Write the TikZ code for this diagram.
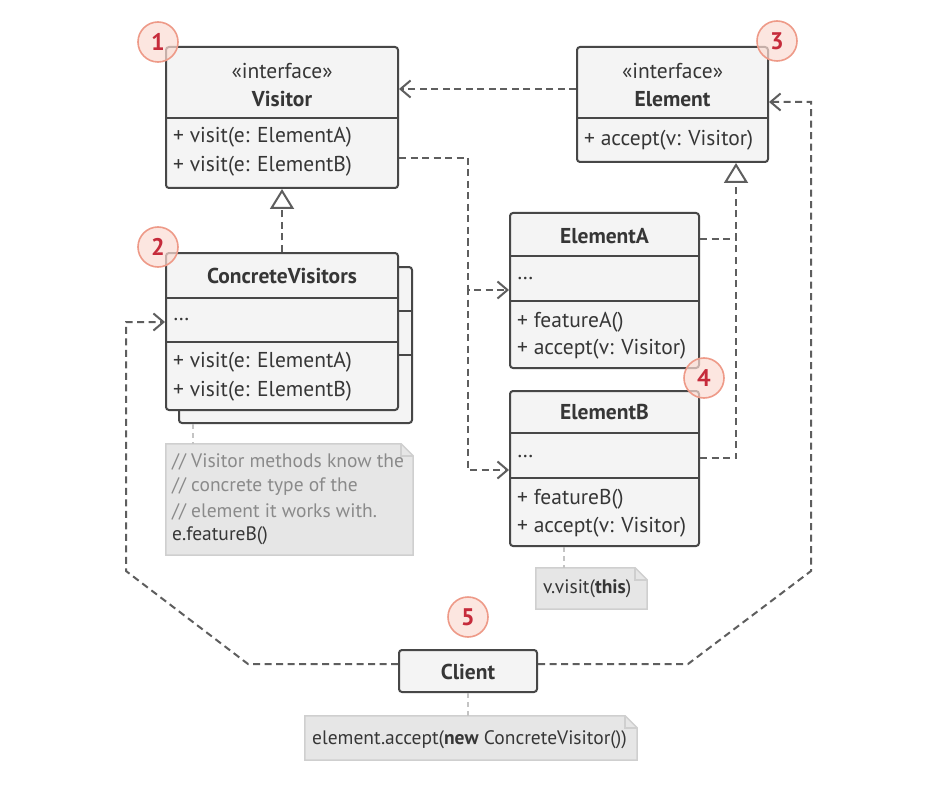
\documentclass[tikz,border=0pt]{standalone}
\usepackage{fontspec}
\setmainfont{PT Sans}
\usetikzlibrary{arrows.meta,calc}
\definecolor{ink}{HTML}{474747}
\definecolor{txtc}{HTML}{363636}
\definecolor{dep}{HTML}{5E5E5E}
\definecolor{boxfill}{HTML}{F4F4F4}
\definecolor{notefill}{HTML}{E6E6E6}
\definecolor{noteline}{HTML}{CFCFCF}
\definecolor{noteconn}{HTML}{C4C4C4}
\definecolor{commenttext}{HTML}{8A8A8A}
\definecolor{badgeline}{HTML}{EE9A88}
\definecolor{badgefill}{HTML}{FCDCD3}
\definecolor{badgetext}{HTML}{C62B3B}
\tikzset{
  umlbox/.style={draw=ink, line width=2pt, fill=boxfill, rounded corners=3pt, inner sep=0pt},
  divider/.style={draw=ink, line width=2pt},
  mtxt/.style={anchor=west, inner sep=0pt, text=txtc, font=\fontsize{21.5}{24}\selectfont},
  ctxt/.style={anchor=center, inner sep=0pt, text=txtc, font=\fontsize{21.5}{24}\selectfont},
  btxt/.style={anchor=center, inner sep=0pt, text=txtc, font=\fontsize{21.5}{24}\selectfont\bfseries},
  deparrow/.style={draw=dep, line width=2pt, dash pattern=on 7pt off 4.5pt,
    -{Straight Barb[length=10pt,width=17pt,line width=2pt]}},
  depline/.style={draw=dep, line width=2pt, dash pattern=on 7pt off 4.5pt},
  realize/.style={draw=dep, line width=2pt, dash pattern=on 7pt off 4.5pt,
    -{Triangle[open,length=20pt,width=24pt,line width=2pt,fill=white]}},
  noteconnector/.style={draw=noteconn, line width=2pt, dash pattern=on 5pt off 4pt},
  notebody/.style={draw=noteline, line width=1.5pt, fill=notefill},
  notetxt/.style={anchor=west, inner sep=0pt, font=\fontsize{19.5}{22}\selectfont},
  badge/.style={circle, minimum size=40pt, inner sep=0pt, draw=badgeline, line width=1.6pt,
    fill=badgefill, fill opacity=0.7, text opacity=1, text=badgetext,
    font=\fontsize{24}{26}\selectfont\bfseries},
}
\begin{document}
\begin{tikzpicture}[x=1pt,y=-1pt]
\useasboundingbox[fill=white] (0,0) rectangle (936,802);

% ---------- Visitor ----------
\node[umlbox, minimum width=232pt, minimum height=141pt] (visitor) at (282,117.5) {};
\draw[divider] (visitor.west |- 0,118) -- (visitor.east |- 0,118);
\node[ctxt] (vstereo) at (282,71) {«interface»};
\node[btxt] (vname) at (282,99) {Visitor};
\node[mtxt] (vm1) at (173,137) {+ visit(e: ElementA)};
\node[mtxt] (vm2) at (173,166) {+ visit(e: ElementB)};

% ---------- Element ----------
\node[umlbox, minimum width=191pt, minimum height=115pt] (element) at (672.5,104.5) {};
\draw[divider] (element.west |- 0,118) -- (element.east |- 0,118);
\node[ctxt] (estereo) at (672.5,71) {«interface»};
\node[btxt] (ename) at (672.5,99) {Element};
\node[mtxt] (em1) at (584,140) {+ accept(v: Visitor)};

% ---------- ConcreteVisitors (stacked) ----------
\node[umlbox, minimum width=233pt, minimum height=156pt] (cvback) at (295.5,345) {};
\draw[divider] (cvback.west |- 0,311) -- (cvback.east |- 0,311);
\draw[divider] (cvback.west |- 0,355) -- (cvback.east |- 0,355);
\node[umlbox, minimum width=232pt, minimum height=157pt] (cv) at (282,331.5) {};
\draw[divider] (cv.west |- 0,298) -- (cv.east |- 0,298);
\draw[divider] (cv.west |- 0,342) -- (cv.east |- 0,342);
\node[btxt] (cvname) at (282,276) {ConcreteVisitors};
\node[mtxt] (cvf) at (173,320) {…};
\node[mtxt] (cvm1) at (173,362) {+ visit(e: ElementA)};
\node[mtxt] (cvm2) at (173,391) {+ visit(e: ElementB)};

% ---------- ElementA ----------
\node[umlbox, minimum width=189pt, minimum height=155pt] (ea) at (604.5,290.5) {};
\draw[divider] (ea.west |- 0,256) -- (ea.east |- 0,256);
\draw[divider] (ea.west |- 0,301) -- (ea.east |- 0,301);
\node[btxt] (eaname) at (604.5,236) {ElementA};
\node[mtxt] (eaf) at (517,279) {…};
\node[mtxt] (eam1) at (517,322) {+ featureA()};
\node[mtxt] (eam2) at (517,349) {+ accept(v: Visitor)};

% ---------- ElementB ----------
\node[umlbox, minimum width=189pt, minimum height=155pt] (eb) at (604.5,468.5) {};
\draw[divider] (eb.west |- 0,433) -- (eb.east |- 0,433);
\draw[divider] (eb.west |- 0,478) -- (eb.east |- 0,478);
\node[btxt] (ebname) at (604.5,412) {ElementB};
\node[mtxt] (ebf) at (517,457) {…};
\node[mtxt] (ebm1) at (517,499) {+ featureB()};
\node[mtxt] (ebm2) at (517,527) {+ accept(v: Visitor)};

% ---------- Client ----------
\node[umlbox, minimum width=138pt, minimum height=42pt] (client) at (468,671) {};
\node[btxt] (cname) at (468,672) {Client};

% ---------- Notes ----------
\node[inner sep=0pt, minimum width=247pt, minimum height=111pt] (n1) at (289.5,499.5) {};
\draw[notebody] (n1.north west) -- ($(n1.north east)+(-12,0)$) -- ($(n1.north east)+(0,12)$) -- (n1.south east) -- (n1.south west) -- cycle;
\draw[draw=noteline, line width=1.5pt] ($(n1.north east)+(-12,0)$) |- ($(n1.north east)+(0,12)$);
\node[notetxt, text=commenttext] (n1a) at (172,462) {// Visitor methods know the};
\node[notetxt, text=commenttext] (n1b) at (172,487) {// concrete type of the};
\node[notetxt, text=commenttext] (n1c) at (172,512) {// element it works with.};
\node[notetxt, text=txtc] (n1d) at (172,536) {e.featureB()};

\node[inner sep=0pt, minimum width=111pt, minimum height=41pt] (n2) at (591.5,588.5) {};
\draw[notebody] (n2.north west) -- ($(n2.north east)+(-12,0)$) -- ($(n2.north east)+(0,12)$) -- (n2.south east) -- (n2.south west) -- cycle;
\draw[draw=noteline, line width=1.5pt] ($(n2.north east)+(-12,0)$) |- ($(n2.north east)+(0,12)$);
\node[notetxt, text=txtc] (n2a) at (543,589) {v.visit(\textbf{this})};

\node[inner sep=0pt, minimum width=332pt, minimum height=44pt] (n3) at (471,738) {};
\draw[notebody] (n3.north west) -- ($(n3.north east)+(-12,0)$) -- ($(n3.north east)+(0,12)$) -- (n3.south east) -- (n3.south west) -- cycle;
\draw[draw=noteline, line width=1.5pt] ($(n3.north east)+(-12,0)$) |- ($(n3.north east)+(0,12)$);
\node[notetxt, text=txtc] (n3a) at (312,740) {element.accept(\textbf{new} ConcreteVisitor())};

% ---------- note connectors ----------
\draw[noteconnector] (cvback.south -| 193,0) -- (n1.north -| 193,0);
\draw[noteconnector] (eb.south -| 564,0) -- (n2.north -| 564,0);
\draw[noteconnector] (client.south) -- (n3.north -| client.south);

% ---------- relations ----------
% Element -> Visitor
\draw[deparrow] (element.west |- 0,89) -- (visitor.east |- 0,89);
% Visitor -> ElementA / ElementB
\coordinate (vj) at (468,158);
\draw[depline] (visitor.east |- vj) -- (vj);
\draw[deparrow] (vj) -- (vj |- 0,290) -- (ea.west |- 0,290);
\draw[deparrow] (vj |- 0,288) -- (vj |- 0,470) -- (eb.west |- 0,470);
% ConcreteVisitors realizes Visitor
\draw[realize] (cv.north) -- (visitor.south);
% ElementA / ElementB realize Element
\coordinate (ej) at (736,239);
\draw[realize] (ea.east |- ej) -- (ej) -- (ej |- element.south);
\draw[depline] (eb.east |- 0,458) -- (ej |- 0,458) -- (ej);
% Client -> ConcreteVisitors
\coordinate (cl1) at (248,664);
\coordinate (cl2) at (126,571);
\draw[deparrow] (client.west |- cl1) -- (cl1) -- (cl2) -- (cl2 |- 0,322) -- (cv.west |- 0,322);
% Client -> Element
\coordinate (cr1) at (688,664);
\coordinate (cr2) at (811,571);
\draw[deparrow] (client.east |- cr1) -- (cr1) -- (cr2) -- (cr2 |- 0,102) -- (element.east |- 0,102);

% ---------- badges ----------
\node[badge] (b1) at (158,42) {1};
\node[badge] (b2) at (158,247) {2};
\node[badge] (b3) at (777,41) {3};
\node[badge] (b4) at (704,378) {4};
\node[badge] (b5) at (468,617) {5};
\end{tikzpicture}
\end{document}
